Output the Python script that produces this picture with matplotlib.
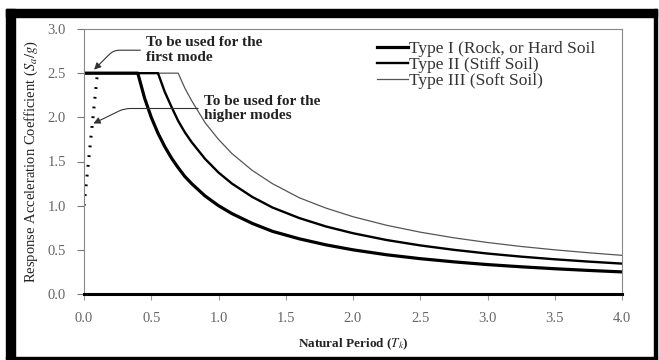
import matplotlib
matplotlib.use("Agg")
import matplotlib.pyplot as plt
from matplotlib.patches import Rectangle
from matplotlib.lines import Line2D

plt.rcParams['font.family'] = ['Liberation Serif', 'DejaVu Serif']
plt.rcParams['mathtext.fontset'] = 'stix'

# values
period = [0.0, 0.4, 0.45, 0.5, 0.55, 0.6, 0.65, 0.7, 0.75, 0.8, 0.9, 1.0, 1.1,
          1.25, 1.4, 1.6, 1.8, 2.0, 2.25, 2.5, 2.75, 3.0, 3.25, 3.5, 3.75, 4.0]
type1 = [2.5, 2.5, 2.22, 2.0, 1.82, 1.67, 1.54, 1.43, 1.33, 1.25, 1.11, 1.0, 0.91,
         0.80, 0.71, 0.625, 0.556, 0.50, 0.444, 0.40, 0.364, 0.333, 0.308, 0.286, 0.267, 0.25]
type2 = [2.5, 2.5, 2.5, 2.5, 2.5, 2.29, 2.12, 1.96, 1.83, 1.72, 1.53, 1.375, 1.25,
         1.10, 0.98, 0.86, 0.764, 0.688, 0.611, 0.55, 0.50, 0.458, 0.423, 0.393, 0.367, 0.344]
type3 = [2.5, 2.5, 2.5, 2.5, 2.5, 2.5, 2.5, 2.5, 2.33, 2.19, 1.94, 1.75, 1.59,
         1.40, 1.25, 1.09, 0.972, 0.875, 0.778, 0.70, 0.636, 0.583, 0.538, 0.50, 0.467, 0.4375]
first_mode_T = [0.0, 0.1]
first_mode_B = [1.0, 2.5]

labels = ["Type I (Rock, or Hard Soil", "Type II (Stiff Soil)", "Type III (Soft Soil)"]

W, H = 659, 360
fig = plt.figure(figsize=(W / 100, H / 100), dpi=100)
ax = fig.add_axes([84 / W, 1 - 294 / H, 538 / W, 265 / H])

ax.plot(period, type3, color="#555555", lw=0.9, solid_capstyle="butt")
ax.plot(period, type2, color="black", lw=1.7, solid_capstyle="butt")
ax.plot(period, type1, color="black", lw=2.3, solid_capstyle="butt")
ax.plot(first_mode_T, first_mode_B, color="black", lw=2.2, linestyle=(0, (0.6, 2.6)),
        dash_capstyle="butt")

ax.set_xlim(0, 4.0)
ax.set_ylim(0, 3.0)
ax.set_xticks([0.0, 0.5, 1.0, 1.5, 2.0, 2.5, 3.0, 3.5, 4.0])
ax.set_yticks([0.0, 0.5, 1.0, 1.5, 2.0, 2.5, 3.0])
ax.xaxis.set_major_formatter(matplotlib.ticker.FormatStrFormatter('%.1f'))
ax.yaxis.set_major_formatter(matplotlib.ticker.FormatStrFormatter('%.1f'))
ax.tick_params(axis='y', direction='out', length=5, width=0.8, color="#777777",
               labelcolor="#666666", labelsize=10.5, pad=8)
ax.tick_params(axis='x', direction='out', length=4, width=0.8, color="#999999",
               labelcolor="#666666", labelsize=10.5, pad=9)

for s in ["left", "top", "right"]:
    ax.spines[s].set_color("#888888")
    ax.spines[s].set_linewidth(0.8)
ax.spines["bottom"].set_color("black")
ax.spines["bottom"].set_linewidth(2.2)

ax.set_xlabel("Natural Period ($T_k$)", fontsize=9.5, fontweight="bold",
              color="#222222", labelpad=8)
ax.set_ylabel("Response Acceleration Coefficient ($S_a/g$)", fontsize=10.5,
              color="#222222", labelpad=5)

handles = [Line2D([], [], color="black", lw=2.3),
           Line2D([], [], color="black", lw=1.7),
           Line2D([], [], color="#555555", lw=0.9)]
leg = ax.legend(handles, labels, loc="upper left", frameon=False, fontsize=12.5,
                handlelength=1.75, handletextpad=0.1, labelspacing=0.0,
                borderaxespad=0, borderpad=0,
                bbox_to_anchor=(0.545, 0.955), labelcolor="#333333")

ax.annotate("To be used for the\nfirst mode", xy=(0.075, 2.54), xytext=(0.46, 2.76),
            fontsize=11, fontweight="bold", color="#222222", va="center",
            linespacing=1.25,
            arrowprops=dict(arrowstyle="-|>", color="#333333", lw=0.8,
                            mutation_scale=10, shrinkA=2, shrinkB=0,
                            connectionstyle="angle,angleA=0,angleB=45,rad=6"))
ax.annotate("To be used for the\nhigher modes", xy=(0.07, 1.93), xytext=(0.89, 2.1),
            fontsize=11, fontweight="bold", color="#222222", va="center",
            linespacing=1.15,
            arrowprops=dict(arrowstyle="-|>", color="#333333", lw=0.8,
                            mutation_scale=10, shrinkA=2, shrinkB=0,
                            connectionstyle="angle,angleA=0,angleB=26,rad=6"))

# black picture frame
def frame(x0, y0, x1, y1):
    fig.patches.append(Rectangle((x0 / W, 1 - y1 / H), (x1 - x0) / W, (y1 - y0) / H,
                                 transform=fig.transFigure, color="black", zorder=10))

frame(6, 9, 657, 17)
frame(6, 9, 15, 359)
frame(654, 9, 657, 359)
frame(6, 357, 657, 359)

fig.savefig("out.png", dpi=100)
